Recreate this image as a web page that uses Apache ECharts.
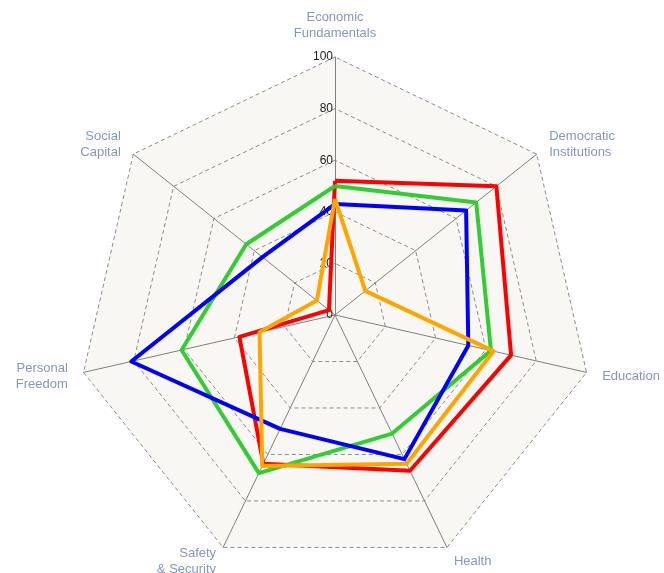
<!DOCTYPE html>
<html>
<head>
<meta charset="utf-8">
<script src="https://cdn.jsdelivr.net/npm/echarts@6/dist/echarts.min.js"></script>
<style>html,body{margin:0;padding:0;background:#fff;}#chart{width:664px;height:573px;}</style>
</head>
<body>
<div id="chart"></div>
<script>
// Categories in clockwise order starting at the top
var categories = ['Economic\nFundamentals', 'Democratic\nInstitutions', 'Education', 'Health', 'Safety\n& Security', 'Personal\nFreedom', 'Social\nCapital'];
var maxValue = 100;
var seriesNames = ['Red', 'Green', 'Blue', 'Orange'];
var redValues    = [52, 80, 70, 67, 64, 38, 3];
var greenValues  = [50, 70, 62, 51, 68, 61, 44];
var blueValues   = [43, 65, 53, 62, 49, 81, 36];
var orangeValues = [45, 15, 63, 64, 65, 30, 9];
var seriesColors = ['#ff0000', '#33cc33', '#0000ff', '#ffa500'];

// ECharts places radar indicators counter-clockwise; reorder to draw clockwise
function toCCW(arr) {
  var out = [arr[0]];
  for (var i = arr.length - 1; i >= 1; i--) out.push(arr[i]);
  return out;
}
var ccwCats = toCCW(categories);
var indicators = ccwCats.map(function (c, i) {
  var ind = { name: c, max: maxValue, min: 0 };
  if (i === 0) ind.axisLabel = { show: true };
  return ind;
});
var allValues = [redValues, greenValues, blueValues, orangeValues];

var chart = echarts.init(document.getElementById('chart'), null, { renderer: 'canvas' });
chart.setOption({
  backgroundColor: '#ffffff',
  animation: false,
  radar: {
    center: [335, 315],
    radius: 258,
    startAngle: 90,
    shape: 'polygon',
    splitNumber: 5,
    indicator: indicators,
    axisName: {
      color: '#8595c5',
      fontFamily: 'Liberation Sans, Arial, sans-serif',
      fontSize: 13,
      lineHeight: 16
    },
    nameGap: 16,
    axisLine: { lineStyle: { color: '#808080', width: 1 } },
    splitLine: { lineStyle: { color: '#8c8c8c', type: [4, 3], width: 1 } },
    splitArea: { show: true, areaStyle: { color: ['#f8f7f4'] } },
    axisTick: { show: false },
    axisLabel: {
      show: false,
      color: '#222',
      fontFamily: 'Liberation Sans, Arial, sans-serif',
      fontSize: 12,
      margin: 2
    }
  },
  series: [{
    type: 'radar',
    symbol: 'none',
    data: allValues.map(function (vals, i) {
      return {
        name: seriesNames[i],
        value: toCCW(vals),
        lineStyle: { color: seriesColors[i], width: 4 },
        itemStyle: { color: seriesColors[i] }
      };
    })
  }]
});
</script>
</body>
</html>
